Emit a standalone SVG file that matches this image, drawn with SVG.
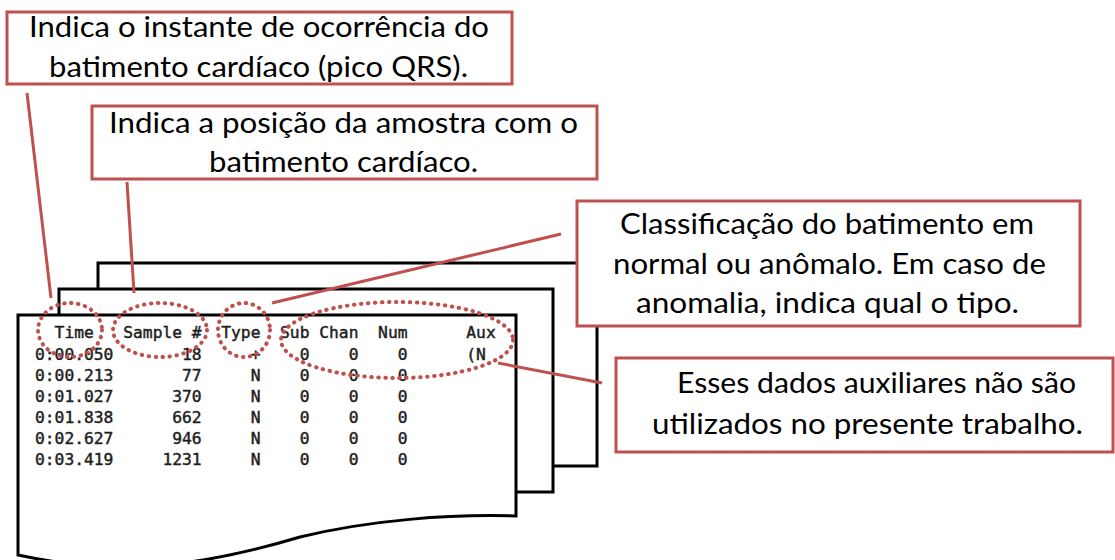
<svg xmlns="http://www.w3.org/2000/svg" width="1115" height="560" viewBox="0 0 1115 560">
<style>
.page{fill:#fff;stroke:#000;stroke-width:3;stroke-linejoin:miter}
.box{fill:#fff;stroke:#C0504D;stroke-width:3}
.lbl{font-family:Lato,"Liberation Sans",sans-serif;font-size:28.5px;fill:#000}
.mono{font-family:"DejaVu Sans Mono","Liberation Mono",monospace;font-size:16.3px;fill:#1e1e1e;stroke:#1e1e1e;stroke-width:0.45px;white-space:pre}
.dot{fill:none;stroke:#C0504D;stroke-width:4;stroke-dasharray:0.5 6.5;stroke-linecap:round}
.conn{fill:none;stroke:#C0504D;stroke-width:3}
</style>
<g id="pages">
  <path class="page" d="M98,289 V263 H597 V466 H554"/>
  <path class="page" d="M59,315 V289 H553 V492 H516"/>
  <path class="page" d="M18,315 H516 V516 C450,514 370,520 300,537 C190,570 110,575 18,555 Z"/>
</g>
<g id="table">
  <text class="mono" xml:space="preserve" x="35" y="338">  Time   Sample #  Type  Sub Chan  Num      Aux</text>
  <text class="mono" xml:space="preserve" x="35" y="360">0:00.050       18     +    0    0    0      (N</text>
  <text class="mono" xml:space="preserve" x="35" y="381">0:00.213       77     N    0    0    0</text>
  <text class="mono" xml:space="preserve" x="35" y="402">0:01.027      370     N    0    0    0</text>
  <text class="mono" xml:space="preserve" x="35" y="423">0:01.838      662     N    0    0    0</text>
  <text class="mono" xml:space="preserve" x="35" y="444">0:02.627      946     N    0    0    0</text>
  <text class="mono" xml:space="preserve" x="35" y="465">0:03.419     1231     N    0    0    0</text>
</g>
<g id="highlights">
  <ellipse id="hl-time" class="dot" cx="70" cy="330" rx="32" ry="27"/>
  <ellipse id="hl-sample" class="dot" cx="160" cy="330" rx="47" ry="27"/>
  <ellipse id="hl-type" class="dot" cx="244" cy="330" rx="26" ry="27"/>
  <ellipse id="hl-aux" class="dot" cx="397" cy="340" rx="116" ry="38"/>
</g>
<g id="connectors">
  <line class="conn" x1="27" y1="93" x2="51" y2="298"/>
  <line class="conn" x1="127" y1="182" x2="134" y2="293"/>
  <line class="conn" x1="272" y1="303" x2="561" y2="234"/>
  <line class="conn" x1="498" y1="363" x2="602" y2="383"/>
</g>
<g id="note-time">
  <rect class="box" x="7" y="12" width="505" height="72"/>
  <text class="lbl" x="29" y="37" textLength="460" lengthAdjust="spacingAndGlyphs">Indica o instante de ocorrência do</text>
  <text class="lbl" x="49" y="77" textLength="419" lengthAdjust="spacingAndGlyphs">batimento cardíaco (pico QRS).</text>
</g>
<g id="note-sample">
  <rect class="box" x="92" y="106" width="505" height="73"/>
  <text class="lbl" x="109" y="133" textLength="469" lengthAdjust="spacingAndGlyphs">Indica a posição da amostra com o</text>
  <text class="lbl" x="209" y="172" textLength="269" lengthAdjust="spacingAndGlyphs">batimento cardíaco.</text>
</g>
<g id="note-type">
  <rect class="box" x="577" y="201" width="503" height="125"/>
  <text class="lbl" x="620" y="234" textLength="414" lengthAdjust="spacingAndGlyphs">Classificação do batimento em</text>
  <text class="lbl" x="613" y="274" textLength="433" lengthAdjust="spacingAndGlyphs">normal ou anômalo. Em caso de</text>
  <text class="lbl" x="636" y="313" textLength="383" lengthAdjust="spacingAndGlyphs">anomalia, indica qual o tipo.</text>
</g>
<g id="note-aux">
  <rect class="box" x="616" y="358" width="497" height="94"/>
  <text class="lbl" x="677" y="393" textLength="399" lengthAdjust="spacingAndGlyphs">Esses dados auxiliares não são</text>
  <text class="lbl" x="652" y="434" textLength="431" lengthAdjust="spacingAndGlyphs">utilizados no presente trabalho.</text>
</g>
</svg>
